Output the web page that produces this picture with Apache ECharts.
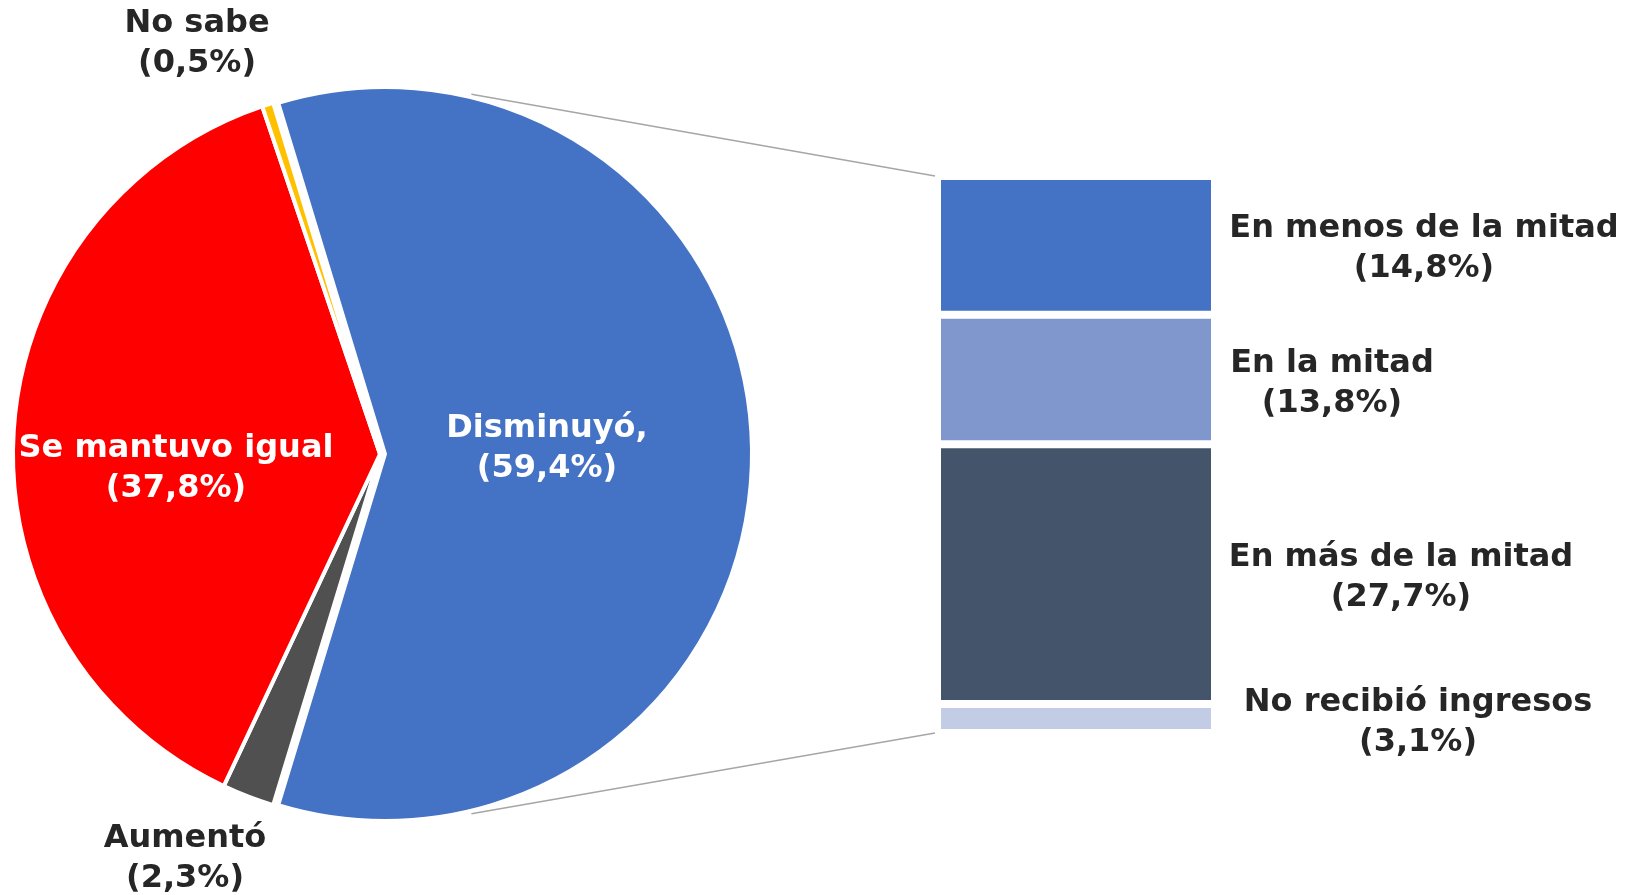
<!DOCTYPE html>
<html>
<head>
<meta charset="utf-8">
<title>Ingresos</title>
<script src="https://cdn.jsdelivr.net/npm/echarts@6/dist/echarts.min.js"></script>
<style>
html, body { margin: 0; padding: 0; background: #fff; }
#main { width: 1625px; height: 895px; }
</style>
</head>
<body>
<div id="main"></div>
<script>
// datos del pastel
var pieNames = ['Disminuyó,', 'Aumentó', 'Se mantuvo igual', 'No sabe'];
var pieValues = [59.4, 2.3, 37.8, 0.5];
var pieColors = ['#4472C4', '#505050', '#FF0000', '#FFC000'];

// datos de la barra (de abajo hacia arriba)
var barNames = ['No recibió ingresos', 'En más de la mitad', 'En la mitad', 'En menos de la mitad'];
var barValues = [3.1, 27.7, 13.8, 14.8];
var barColors = ['#C2CCE5', '#44546A', '#8097CE', '#4472C4'];

// posiciones de las etiquetas del pastel (centro del texto)
var pieLabelPos = [[547, 449], [185, 859], [176, 469], [197, 44]];
var pieLabelColor = ['#fff', '#262626', '#fff', '#262626'];
// desplazamiento de las etiquetas de la barra respecto al borde derecho
var barLabelOffset = [[203, 4], [186, 4], [117, 4], [209, 3]];

var pieCenter = [385, 454];
var pieShift = 5;   // el resto del pastel va un poco separado a la izquierda
var pieRadius = 367;
var barLeft = 937;
var barWidth = 278;
var barTop = 176;
var barHeight = 557;

var fontFamily = '"DejaVu Sans", Verdana, sans-serif';
var fontSize = 32;

function fmt(v) {
    return '(' + v.toFixed(1).replace('.', ',') + '%)';
}

var total = 0;
for (var i = 0; i < barValues.length; i++) total += barValues[i];
total = Math.round(total * 10) / 10;

myChart = echarts.init(document.getElementById('main'));

var barSeries = [];
for (var j = 0; j < barValues.length; j++) {
    barSeries.push({
        name: barNames[j],
        type: 'bar',
        stack: 'otros',
        barWidth: '100%',
        animation: false,
        itemStyle: {
            color: barColors[j],
            borderColor: '#fff',
            borderWidth: 4
        },
        label: {
            show: true,
            position: 'right',
            distance: 0,
            align: 'center',
            verticalAlign: 'middle',
            offset: barLabelOffset[j],
            color: '#262626',
            fontFamily: fontFamily,
            fontWeight: 'bold',
            fontSize: fontSize,
            lineHeight: 40,
            formatter: (function (k) {
                return function (p) { return barNames[k] + '\n' + fmt(p.value); };
            })(j)
        },
        data: [barValues[j]]
    });
}

// dos series de pastel: la primera solo pinta "Disminuyó", la segunda el resto
function pieData(first) {
    var out = [];
    for (var m = 0; m < pieValues.length; m++) {
        var visible = first ? m === 0 : m !== 0;
        out.push({
            name: pieNames[m],
            value: pieValues[m],
            itemStyle: visible
                ? { color: pieColors[m], borderColor: '#fff', borderWidth: 4 }
                : { color: 'rgba(0,0,0,0)', borderWidth: 0 },
            label: { show: visible, color: pieLabelColor[m] }
        });
    }
    return out;
}

function pieSeries(first) {
    return {
        name: 'Ingresos',
        type: 'pie',
        center: first ? pieCenter : [pieCenter[0] - pieShift, pieCenter[1]],
        radius: pieRadius,
        startAngle: pieValues[0] / 100 * 180,
        clockwise: true,
        avoidLabelOverlap: false,
        silent: true,
        animation: false,
        label: {
            position: 'inside',
            fontFamily: fontFamily,
            fontWeight: 'bold',
            fontSize: fontSize,
            lineHeight: 40,
            formatter: function (p) { return p.name + '\n' + fmt(p.value); }
        },
        labelLine: { show: false },
        labelLayout: function (p) {
            var pos = pieLabelPos[p.dataIndex];
            return { x: pos[0], y: pos[1], align: 'center', verticalAlign: 'middle' };
        },
        data: pieData(first)
    };
}

var option = {
    backgroundColor: '#fff',
    animation: false,
    grid: {
        left: barLeft,
        top: barTop,
        width: barWidth,
        height: barHeight
    },
    xAxis: {
        type: 'category',
        show: false,
        data: ['Disminuyó']
    },
    yAxis: {
        type: 'value',
        show: false,
        min: 0,
        max: total
    },
    series: [pieSeries(true), pieSeries(false)].concat(barSeries)
};

myChart.setOption(option);

// líneas de conexión entre el pastel y la barra
var yTop = myChart.convertToPixel({ yAxisIndex: 0 }, total);
var yBottom = myChart.convertToPixel({ yAxisIndex: 0 }, 0);
var ang = 76.5 * Math.PI / 180;
var r2 = pieRadius + 3;
var px = pieCenter[0] + r2 * Math.cos(ang);
var lineStyle = { stroke: '#A6A6A6', lineWidth: 1.5 };
myChart.setOption({
    graphic: [
        {
            type: 'line',
            shape: { x1: px, y1: pieCenter[1] - r2 * Math.sin(ang), x2: barLeft - 2, y2: yTop },
            style: lineStyle,
            z: 0
        },
        {
            type: 'line',
            shape: { x1: px, y1: pieCenter[1] + r2 * Math.sin(ang), x2: barLeft - 2, y2: yBottom },
            style: lineStyle,
            z: 0
        }
    ]
});
</script>
</body>
</html>
